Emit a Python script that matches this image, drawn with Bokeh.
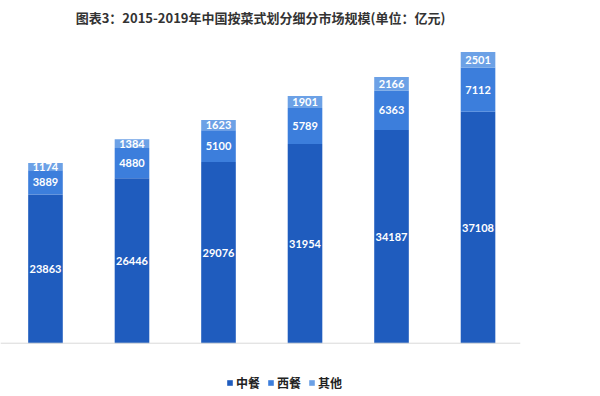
from bokeh.plotting import figure
from bokeh.models import ColumnDataSource, Range1d, Span, Legend, LegendItem
from bokeh.core.properties import value
from bokeh.embed import file_html
from bokeh.resources import INLINE

years = ["2014", "2015", "2016", "2017", "2018", "2019"]
zhongcan = [23863, 26446, 29076, 31954, 34187, 37108]
xican = [3889, 4880, 5100, 5789, 6363, 7112]
qita = [1174, 1384, 1623, 1901, 2166, 2501]
series = ["中餐", "西餐", "其他"]
colors = ["#1F5CBE", "#3C7EDC", "#6CA1E6"]
title_text = "图表3：2015-2019年中国按菜式划分细分市场规模(单位：亿元)"

idx = list(range(len(years)))
b1 = zhongcan
b2 = [a + b for a, b in zip(zhongcan, xican)]
b3 = [a + b for a, b in zip(b2, qita)]

src = ColumnDataSource(dict(
    x=idx, year=years,
    z0=[0] * len(idx), z1=b1, z2=b2, z3=b3,
))

p = figure(width=592, height=396, output_backend="svg", toolbar_location=None,
           x_range=Range1d(-0.520, 5.491), y_range=Range1d(-8548, 50000),
           min_border_left=0, min_border_right=72, min_border_top=0, min_border_bottom=0,
           title=title_text)
p.title.align = "center"
p.title.text_font = "Noto Sans CJK SC"
p.title.text_font_size = "13px"
p.title.text_font_style = "bold"
p.title.text_color = "#333333"
p.axis.visible = False
p.grid.visible = False
p.outline_line_color = None
p.background_fill_color = "white"

bottoms = ["z0", "z1", "z2"]
tops = ["z1", "z2", "z3"]
renderers = []
for bot, top, col in zip(bottoms, tops, colors):
    r = p.vbar(x="x", width=0.4, bottom=bot, top=top, source=src,
               fill_color=col, line_color=None)
    renderers.append(r)

p.add_layout(Span(location=0, dimension="width", line_color="#d9d9d9", line_width=1))

for vals, lo in ((zhongcan, [0] * len(idx)), (xican, b1), (qita, b2)):
    ys = [l + v / 2 for l, v in zip(lo, vals)]
    p.text(x=idx, y=ys, text=[str(v) for v in vals], text_align="center",
           text_baseline="middle", text_color="white", text_font=value("Lato"),
           text_font_style="bold", text_font_size="11px")

legend = Legend(items=[LegendItem(label=s, renderers=[r]) for s, r in zip(series, renderers)],
                orientation="horizontal", location=(226, 5),
                glyph_width=7, glyph_height=7, label_height=7, label_standoff=3, spacing=7,
                padding=0, margin=0, border_line_color=None, background_fill_alpha=0,
                label_text_font="Noto Sans CJK SC", label_text_font_style="bold",
                label_text_font_size="12px", label_text_color="#222222")
p.add_layout(legend)

open("out.html", "w").write(file_html(p, INLINE))
